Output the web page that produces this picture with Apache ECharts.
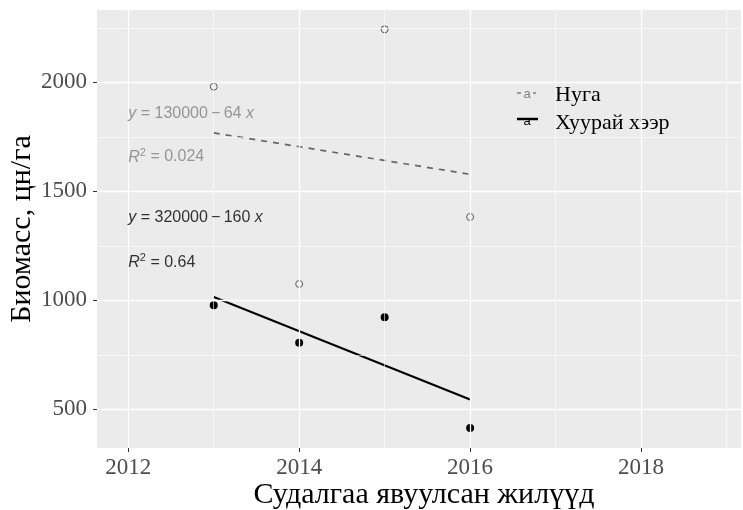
<!DOCTYPE html>
<html>
<head>
<meta charset="utf-8">
<script src="https://cdn.jsdelivr.net/npm/echarts@6/dist/echarts.min.js"></script>
<style>html,body{margin:0;padding:0;background:#fff}#c{width:743px;height:510px}</style>
</head>
<body>
<div id="c"></div>
<script>
// ---- data ----
var years = [2013, 2014, 2015, 2016];
var nugaValues = [1980, 1075, 2243, 1382];
var khuuraiValues = [977, 805, 922, 414];
var fitYears = [2013, 2016];
var nugaFit = [1768, 1578];
var khuuraiFit = [1015, 545];
var xTicks = [2012, 2014, 2016, 2018];
var xMinor = [2013, 2015, 2017, 2019];
var yTicks = [500, 1000, 1500, 2000];
var yMinor = [750, 1250, 1750, 2250];
var seriesNames = ['Нуга', 'Хуурай хээр'];
var eqNuga = ['130000', '64', '0.024'];
var eqKhuurai = ['320000', '160', '0.64'];
var eqX = 2012;
var eqYNuga = [1855, 1657];
var eqYKhuurai = [1381, 1174];

var chart = echarts.init(document.getElementById('c'));
var serif = 'Liberation Serif';
var sans = 'Liberation Sans';

function pairs(xs, ys) { return xs.map(function (x, i) { return [x, ys[i]]; }); }

function eqSeries(vals, ys, color) {
  var rich = {
    i: {fontFamily: sans, fontStyle: 'italic', fontSize: 16, color: color},
    n: {fontFamily: sans, fontSize: 16, color: color},
    s: {fontFamily: sans, fontSize: 11, color: color, verticalAlign: 'top', padding: [0, 0, 9, 0]}
  };
  return {
    type: 'scatter', symbolSize: 0, silent: true, z: 5,
    data: [
      {value: [eqX, ys[0]], label: {formatter: '{i|y}{n| = ' + vals[0] + '\u2009\u2212\u2009' + vals[1] + ' }{i|x}'}},
      {value: [eqX, ys[1]], label: {formatter: '{i|R}{s|2}{n| = ' + vals[2] + '}'}}
    ],
    label: {show: true, position: [0, 0], align: 'left', verticalAlign: 'middle', rich: rich}
  };
}

var gridLines = [];
xTicks.forEach(function (v) { gridLines.push({xAxis: v, lineStyle: {width: 1.3}}); });
xMinor.forEach(function (v) { gridLines.push({xAxis: v, lineStyle: {width: 0.6}}); });
yTicks.forEach(function (v) { gridLines.push({yAxis: v, lineStyle: {width: 1.3}}); });
yMinor.forEach(function (v) { gridLines.push({yAxis: v, lineStyle: {width: 0.6}}); });

function plain(v) { return String(v); }

var option = {
  animation: false,
  grid: {left: 97, top: 10, right: 2, bottom: 62, show: true, backgroundColor: '#ebebeb', borderWidth: 0,
    containLabel: false, outerBoundsMode: 'none'},
  xAxis: {
    type: 'value', min: 2011.634, max: 2019.17,
    name: 'Судалгаа явуулсан жилүүд', nameLocation: 'middle', nameGap: 32, nameMoveOverlap: false,
    nameTextStyle: {fontFamily: serif, fontSize: 30, color: '#000', verticalAlign: 'top', padding: [0, 0, 0, 10]},
    axisLine: {show: false},
    axisTick: {show: true, length: 4, lineStyle: {color: '#333'}, customValues: xTicks},
    axisLabel: {fontFamily: serif, fontSize: 23, color: '#4d4d4d', margin: 8, customValues: xTicks, formatter: plain},
    splitLine: {show: false}
  },
  yAxis: {
    type: 'value', min: 322.5, max: 2331.7,
    name: 'Биомасс, цн/га', nameLocation: 'middle', nameGap: 60, nameMoveOverlap: false,
    nameTextStyle: {fontFamily: serif, fontSize: 30, color: '#000'},
    axisLine: {show: false},
    axisTick: {show: true, length: 4, lineStyle: {color: '#333'}, customValues: yTicks},
    axisLabel: {fontFamily: serif, fontSize: 23, color: '#4d4d4d', margin: 10, customValues: yTicks, formatter: plain},
    splitLine: {show: false}
  },
  series: [
    {
      type: 'line', data: [], silent: true, z: 1,
      markLine: {silent: true, symbol: 'none', label: {show: false},
        lineStyle: {color: '#ffffff', type: 'solid'}, emphasis: {disabled: true}, data: gridLines}
    },
    {
      name: seriesNames[0], type: 'scatter', data: pairs(years, nugaValues), z: 3,
      symbol: 'circle', symbolSize: 7,
      itemStyle: {color: 'rgba(0,0,0,0)', borderColor: '#5a5a5a', borderWidth: 1, opacity: 1}
    },
    {
      name: seriesNames[1], type: 'scatter', data: pairs(years, khuuraiValues), z: 3,
      symbol: 'circle', symbolSize: 8, itemStyle: {color: '#000', borderWidth: 0, opacity: 1}
    },
    {
      type: 'line', data: pairs(fitYears, nugaFit), showSymbol: false, silent: true, z: 2,
      lineStyle: {color: '#666', width: 1.7, type: [6, 6]}
    },
    {
      type: 'line', data: pairs(fitYears, khuuraiFit), showSymbol: false, silent: true, z: 2,
      lineStyle: {color: '#000', width: 2}
    },
    eqSeries(eqNuga, eqYNuga, '#808080'),
    eqSeries(eqKhuurai, eqYKhuurai, '#000')
  ],
  graphic: [
    {type: 'line', shape: {x1: 517, y1: 93, x2: 521, y2: 93}, style: {stroke: '#808080', lineWidth: 1.5}},
    {type: 'line', shape: {x1: 533, y1: 93, x2: 536, y2: 93}, style: {stroke: '#808080', lineWidth: 1.5}},
    {type: 'text', x: 527, y: 94, style: {text: 'a', fontFamily: sans, fontSize: 13, fill: '#808080', align: 'center', verticalAlign: 'middle'}},
    {type: 'line', shape: {x1: 517, y1: 119, x2: 538, y2: 119}, style: {stroke: '#000', lineWidth: 2.5}},
    {type: 'text', x: 527, y: 121, style: {text: 'a', fontFamily: sans, fontSize: 13, fill: '#000', align: 'center', verticalAlign: 'middle'}},
    {type: 'text', x: 555, y: 95, style: {text: seriesNames[0], fontFamily: serif, fontSize: 22, fill: '#000', align: 'left', verticalAlign: 'middle'}},
    {type: 'text', x: 555, y: 123, style: {text: seriesNames[1], fontFamily: serif, fontSize: 22, fill: '#000', align: 'left', verticalAlign: 'middle'}}
  ]
};
chart.setOption(option);
</script>
</body>
</html>
